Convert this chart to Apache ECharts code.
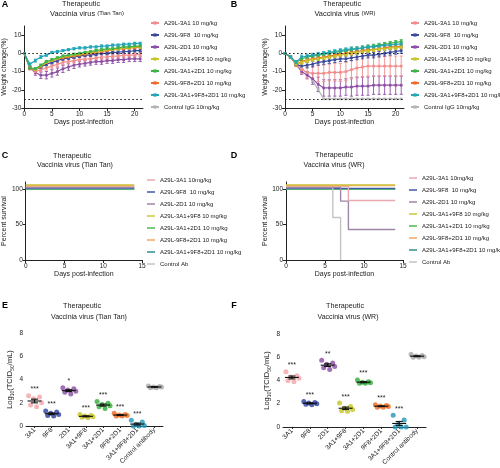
<!DOCTYPE html>
<html><head><meta charset="utf-8">
<script src="https://cdn.jsdelivr.net/npm/echarts@6/dist/echarts.min.js"></script>
<style>html,body{margin:0;padding:0;background:#fff}#c{width:500px;height:468px}</style>
</head><body><div id="c"></div>
<script>
// ---------- DATA ----------
const days = [0,1,2,3,4,5,6,7,8,9,10,11,12,13,14,15,16,17,18,19,20,21];
const legA = ['A29L-3A1 10 mg/kg','A29L-9F8  10 mg/kg','A29L-2D1 10 mg/kg','A29L-3A1+9F8 10 mg/kg','A29L-3A1+2D1 10 mg/kg','A29L-9F8+2D1 10 mg/kg','A29L-3A1+9F8+2D1 10 mg/kg','Control IgG 10mg/kg'];
const legC = ['A29L-3A1 10mg/kg','A29L-9F8  10 mg/kg ','A29L-2D1 10 mg/kg ','A29L-3A1+9F8 10 mg/kg ','A29L-3A1+2D1 10 mg/kg ','A29L-9F8+2D1 10 mg/kg ','A29L-3A1+9F8+2D1 10 mg/kg ','Control Ab'];
const cats = ['3A1','9F8','2D1','3A1+9F8','3A1+2D1','9F8+2D1','3A1+9F8+2D1','Control antibody'];

// Panel A: weight change (%), Tian Tan
const A_3A1        = [0,-8,-10,-9,-8,-7,-6,-5,-4.5,-4,-3.5,-3,-3,-2.5,-2,-2,-1.5,-1.5,-1,-1,-1,-0.5];
const A_9F8        = [0,-8,-9,-7.5,-6,-5,-4,-3,-2.5,-2,-1.5,-1,-1,-0.5,0,0,0.5,0.5,1,1,1.5,1.5];
const A_2D1        = [0,-8,-10.5,-12,-12,-11,-10,-8.5,-7.5,-6.5,-6,-5.5,-5,-4.5,-4.5,-4,-4,-3.5,-3.5,-3,-3,-3];
const A_3A1_9F8    = [0,-8,-9,-7,-5,-4,-3,-2,-1.5,-1,-0.5,0,0.5,1,1.5,2,2,2.5,3,3,3.5,3.5];
const A_3A1_2D1    = [0,-8,-8.5,-6.5,-4.5,-3.5,-2.5,-1.5,-1,-0.5,0,0.5,1,1.5,2,2.5,2.5,3,3.5,3.5,4,4];
const A_9F8_2D1    = [0,-8,-9,-7,-5,-4,-3,-2.5,-2,-1.5,-1,-0.5,0,0.5,1,1.5,2,2.5,2.5,3,3,3.5];
const A_3A1_9F8_2D1= [0,-6,-4,-2,-1,0.5,1,1.5,2,2.5,3,3,3.5,3.5,4,4,4.5,4.5,5,5,5.5,5.5];
const A_ctrl       = [];
const A_err_3A1     = [0,1,1,1.2,1.2,1.2,1.2,1.2,1.2,1.2,1.2,1.2,1.2,1.2,1.2,1.2,1.2,1.2,1.2,1.2,1.2,1.2];
const A_err_9F8     = [0,0.8,0.8,0.8,0.8,0.8,0.8,0.8,0.8,0.8,0.8,0.8,0.8,0.8,0.8,0.8,0.8,0.8,0.8,0.8,0.8,0.8];
const A_err_2D1     = [0,1,1.5,1.8,2,2,2,2,1.8,1.8,1.5,1.5,1.5,1.5,1.5,1.5,1.5,1.5,1.5,1.5,1.5,1.5];
const A_err_3A1_9F8 = [0,0.6,0.6,0.6,0.6,0.6,0.6,0.6,0.6,0.6,0.6,0.6,0.6,0.6,0.6,0.6,0.6,0.6,0.6,0.6,0.6,0.6];
const A_err_3A1_2D1 = [0,0.6,0.6,0.6,0.6,0.6,0.6,0.6,0.6,0.6,0.6,0.6,0.6,0.6,0.6,0.6,0.6,0.6,0.6,0.6,0.6,0.6];
const A_err_9F8_2D1 = [0,0.6,0.6,0.6,0.6,0.6,0.6,0.6,0.6,0.6,0.6,0.6,0.6,0.6,0.6,0.6,0.6,0.6,0.6,0.6,0.6,0.6];
const A_err_3A1_9F8_2D1 = [0,0.8,0.8,0.8,0.6,0.6,0.6,0.6,0.6,0.6,0.6,0.6,0.6,0.6,0.6,0.6,0.6,0.6,0.6,0.6,0.6,0.6];
const A_err_ctrl    = [];

// Panel B: weight change (%), WR
const B_3A1        = [0,-2,-6,-9,-10.5,-11,-11,-11,-10.5,-10.5,-10.5,-10,-9,-8,-7.5,-7,-7,-7,-7,-7,-7,-7];
const B_9F8        = [0,-2,-6,-7,-6.5,-6,-5,-4.5,-4,-3.5,-3,-3,-2.5,-2,-1.5,-1,-1,-0.5,0,0.5,1,1.5];
const B_2D1        = [0,-2,-6,-10,-12,-14,-17,-19,-19,-19,-19,-18.5,-18.5,-18,-18,-18,-17.5,-17.5,-17.5,-17.5,-17.5,-17.5];
const B_3A1_9F8    = [0,-2,-6,-5,-4,-3.5,-3,-2.5,-2,-1.5,-1,-0.5,0,0.5,1,1.5,2,2.5,2.5,3,3,3.5];
const B_3A1_2D1    = [0,-2,-5,-3,-2,-1.5,-1,-0.5,0,0.5,1,1.5,2,2.5,3,3.5,4,4.5,5,5.5,6,6.5];
const B_9F8_2D1    = [0,-2,-6,-4.5,-3.5,-3,-2.5,-2,-1.5,-1,-0.5,0,0.5,1,1.5,2,2,2.5,3,3.5,3.5,4];
const B_3A1_9F8_2D1= [0,-2,-5,-2,-1.5,-1,-0.5,0,0.5,1,1.5,2,2.5,2.5,3,3.5,3.5,4,4.5,4.5,5,5];
const B_ctrl       = [0,-2,-5,-8,-11,-15,-20,-25,-25,-25,-25,-25,-25,-25,-25,-25,-25,-25,-25,-25,-25,-25];
const B_err_3A1     = [0,0.5,1,2,3,4,4.5,4.5,4.5,5,5,5,5,5.5,5.5,5.5,5.5,5.5,5.5,5.5,5.5,5.5];
const B_err_9F8     = [0,0.5,1,1.5,1.5,1.5,1.5,1.5,1.5,1.5,1.5,1.5,1.5,1.5,1.5,1.5,1.5,1.5,1.5,1.5,1.5,1.5];
const B_err_2D1     = [0,0.5,1,1.5,2,3,4,4.5,4.5,4.5,4.5,4.5,5,5,5,5,5,5,5,5,5,5];
const B_err_3A1_9F8 = [0,0.5,1,1,1,1,1,1,1,1,1,1,1,1,1,1,1,1,1,1,1,1];
const B_err_3A1_2D1 = [0,0.5,1,1,1,1,1,1,1,1,1,1,1,1,1,1,1,1,1,1,1,1];
const B_err_9F8_2D1 = [0,0.5,1,1,1,1,1,1,1,1,1,1,1,1,1,1,1,1,1,1,1,1];
const B_err_3A1_9F8_2D1 = [0,0.5,1,1,1,1,1,1,1,1,1,1,1,1,1,1,1,1,1,1,1,1];
const B_err_ctrl    = [0,0.5,1,1,1,1,1,0,0,0,0,0,0,0,0,0,0,0,0,0,0,0];

// Panel C: survival (%), Tian Tan  [day, percent]
const C_3A1         = [[0,104],[14,104]];
const C_9F8         = [[0,101]  ,[14,101]];
const C_2D1         = [[0,102.5],[14,102.5]];
const C_3A1_9F8     = [[0,106],[14,106]];
const C_3A1_2D1     = [[0,100.5],[14,100.5]];
const C_9F8_2D1     = [[0,105],[14,105]];
const C_3A1_9F8_2D1 = [[0,100],[14,100]];
const C_ctrl        = [[0,102],[14,102]];
// Panel D: survival (%), WR
const D_3A1         = [[0,104],[8,84],[14,84]];
const D_9F8         = [[0,101],[14,101]];
const D_2D1         = [[0,102.5],[7,83],[8,43],[14,43]];
const D_3A1_9F8     = [[0,106],[14,106]];
const D_3A1_2D1     = [[0,100.5],[14,100.5]];
const D_9F8_2D1     = [[0,105],[14,105]];
const D_3A1_9F8_2D1 = [[0,100],[14,100]];
const D_ctrl        = [[0,102],[6,60],[7,0]];

// Panel E: Log10(TCID50/mL), Tian Tan
const E_3A1         = [2.6,2.5,2.35,2.0,1.8,1.65];
const E_9F8         = [1.3,1.2,1.1,1.0,0.9,0.85];
const E_2D1         = [3.3,3.2,3.1,3.0,2.9,2.75];
const E_3A1_9F8     = [1.0,0.9,0.85,0.8,0.75,0.7];
const E_3A1_2D1     = [2.1,1.95,1.85,1.75,1.65,1.5];
const E_9F8_2D1     = [1.1,1.0,0.95,0.9,0.85,0.85];
const E_3A1_9F8_2D1 = [0.5,0.35,0.1,0.05,0.0,0.0];
const E_ctrl        = [3.45,3.4,3.35,3.35,3.3,3.3];
const E_stars       = ['***','***','*','***','***','***','***',''];
// Panel F: Log10(TCID50/mL), WR
const F_3A1         = [4.75,4.4,4.3,4.2,4.0,3.9];
const F_9F8         = [2.2,2.1,2.05,2.0,1.95,1.9];
const F_2D1         = [5.75,5.5,5.4,5.2,5.1,4.95];
const F_3A1_9F8     = [2.05,1.75,1.6,1.5,1.4,1.35];
const F_3A1_2D1     = [4.05,3.9,3.85,3.8,3.75,3.75];
const F_9F8_2D1     = [1.9,1.85,1.8,1.75,1.7,1.7];
const F_3A1_9F8_2D1 = [1.0,0.6,0.2,0.0,0.0,0.0];
const F_ctrl        = [6.25,6.15,6.1,6.05,6.0,6.0];
const F_stars       = ['***','***','**','***','***','***','***',''];

// ---------- STYLE ----------
const colA = ['#F28D8D','#3A4B9E','#8E4FA6','#C6C62A','#3CB24A','#EE6B2C','#22A6B8','#B4B4B4'];
const colC = ['#E9A9B1','#3F5AA8','#9D86A6','#C8C83A','#4DB84D','#F0A860','#2E8F8F','#C4C4C4'];
const colE = ['#F2A3A8','#2C3E9C','#8A4CA2','#C4C420','#2EAE34','#EE6A1E','#2196B6','#A8A8A8'];
const FF = 'Arial, "Liberation Sans", sans-serif';
const TXT = '#1a1a1a';
const jit = [-6,5,-1,7,-4,2];

const A_vals = [A_3A1,A_9F8,A_2D1,A_3A1_9F8,A_3A1_2D1,A_9F8_2D1,A_3A1_9F8_2D1,A_ctrl];
const A_errs = [A_err_3A1,A_err_9F8,A_err_2D1,A_err_3A1_9F8,A_err_3A1_2D1,A_err_9F8_2D1,A_err_3A1_9F8_2D1,A_err_ctrl];
const B_vals = [B_3A1,B_9F8,B_2D1,B_3A1_9F8,B_3A1_2D1,B_9F8_2D1,B_3A1_9F8_2D1,B_ctrl];
const B_errs = [B_err_3A1,B_err_9F8,B_err_2D1,B_err_3A1_9F8,B_err_3A1_2D1,B_err_9F8_2D1,B_err_3A1_9F8_2D1,B_err_ctrl];
const C_vals = [C_3A1,C_9F8,C_2D1,C_3A1_9F8,C_3A1_2D1,C_9F8_2D1,C_3A1_9F8_2D1,C_ctrl];
const D_vals = [D_3A1,D_9F8,D_2D1,D_3A1_9F8,D_3A1_2D1,D_9F8_2D1,D_3A1_9F8_2D1,D_ctrl];
const E_vals = [E_3A1,E_9F8,E_2D1,E_3A1_9F8,E_3A1_2D1,E_9F8_2D1,E_3A1_9F8_2D1,E_ctrl];
const F_vals = [F_3A1,F_9F8,F_2D1,F_3A1_9F8,F_3A1_2D1,F_9F8_2D1,F_3A1_9F8_2D1,F_ctrl];
const orderAB = [7,2,0,1,5,3,4,6];
const orderCD = [6,4,1,7,2,0,5,3];

function axLine(){ return {onZero:false, lineStyle:{color:'#222', width:1}}; }
function axTick(cv){ const t={length:3, lineStyle:{color:'#222', width:1}}; if(cv) t.customValues=cv; return t; }
function axLabel(cv, extra){ const l={fontSize:6.5, color:TXT, margin:3, fontFamily:FF}; if(cv) l.customValues=cv; return Object.assign(l, extra||{}); }
const nameStyle = {fontSize:7, color:TXT, fontFamily:FF};

const grids = [
  {left:24, top:26, width:119, height:82},
  {left:285, top:26, width:119, height:82},
  {left:24, top:182, width:118, height:78},
  {left:286, top:182, width:117, height:78},
  {left:26, top:333, width:137, height:93},
  {left:283, top:334, width:143, height:93}
];
const xAxes = [], yAxes = [];
[0,1].forEach(g=>{
  xAxes.push({gridIndex:g, type:'value', min:0, max:21.5, axisLine:axLine(), axisTick:axTick([0,5,10,15,20]), axisLabel:axLabel([0,5,10,15,20]), splitLine:{show:false},
    name:'Days post-infection', nameLocation:'middle', nameGap:10, nameTextStyle:nameStyle});
  yAxes.push({gridIndex:g, type:'value', min:-30, max:15, axisLine:axLine(), axisTick:axTick([-30,-20,-10,0,10]), axisLabel:axLabel([-30,-20,-10,0,10]), splitLine:{show:false},
    name:'Weight change(%)', nameLocation:'middle', nameGap:13, nameTextStyle:nameStyle});
});
[2,3].forEach(g=>{
  xAxes.push({gridIndex:g, type:'value', min:0, max:15, interval:5, axisLine:axLine(), axisTick:axTick(), axisLabel:axLabel(), splitLine:{show:false},
    name:'Days post-infection', nameLocation:'middle', nameGap:11, nameTextStyle:nameStyle});
  yAxes.push({gridIndex:g, type:'value', min:0, max:110, axisLine:axLine(), axisTick:axTick([0,50,100]), axisLabel:axLabel([0,50,100]), splitLine:{show:false},
    name:'Percent survival', nameLocation:'middle', nameGap:15, nameTextStyle:nameStyle});
});
const yNameRich = {n:{fontSize:7.5, fontFamily:FF, color:TXT, lineHeight:10}, s:{fontSize:5, fontFamily:FF, color:TXT, lineHeight:10, verticalAlign:'bottom'}};
[4,5].forEach(g=>{
  xAxes.push({gridIndex:g, type:'category', data:cats, boundaryGap:true, axisLine:axLine(), axisTick:{show:true, alignWithLabel:true, length:2, lineStyle:{color:'#222'}},
    axisLabel:axLabel(null,{rotate:45, interval:0, fontSize:6.5})});
  yAxes.push({gridIndex:g, type:'value', min:0, max:8, interval:2, axisLine:axLine(), axisTick:axTick(), axisLabel:axLabel(), splitLine:{show:false},
    name:'{n|Log}{s|10}{n|(TCID}{s|50}{n|/mL)}', nameLocation:'middle', nameGap:11, nameTextStyle:{rich:yNameRich}});
});

function errRender(params, api){
  const x=api.value(0), y=api.value(1), e=api.value(2);
  if (!e) return null;
  const hi=api.coord([x,y+e]), lo=api.coord([x,y-e]);
  const w=1.6, st={stroke:api.visual('color'), lineWidth:0.9};
  return {type:'group', children:[
    {type:'line', shape:{x1:hi[0],y1:hi[1],x2:lo[0],y2:lo[1]}, style:st},
    {type:'line', shape:{x1:hi[0]-w,y1:hi[1],x2:hi[0]+w,y2:hi[1]}, style:st},
    {type:'line', shape:{x1:lo[0]-w,y1:lo[1],x2:lo[0]+w,y2:lo[1]}, style:st}]};
}

const series = [];
[[A_vals,A_errs,0,legA],[B_vals,B_errs,1,legA]].forEach(([vals,errs,g,names])=>{
  orderAB.forEach((k,idx)=>{
    const s = {type:'line', name:names[k], xAxisIndex:g, yAxisIndex:g, color:colA[k],
      data: vals[k].map((v,i)=>[days[i], v]), symbol:'rect', symbolSize:2.6, lineStyle:{width:1.2}, z:3};
    if (idx===0) s.markLine = {silent:true, symbol:'none', label:{show:false}, lineStyle:{color:'#222', type:[1.6,2.4], width:1.2},
      data:[{yAxis:0},{yAxis:-25}]};
    series.push(s);
    series.push({type:'custom', name:names[k]+' SEM', xAxisIndex:g, yAxisIndex:g, itemStyle:{color:colA[k]}, z:2,
      renderItem:errRender, data: vals[k].map((v,i)=>[days[i], v, errs[k][i]])});
  });
});
[[C_vals,2],[D_vals,3]].forEach(([vals,g])=>{
  orderCD.forEach(k=>{
    series.push({type:'line', name:legC[k], xAxisIndex:g, yAxisIndex:g, color:colC[k], step:'end', symbol:'none',
      lineStyle:{width:1.4}, data:vals[k]});
  });
});
function meanOf(a){ return a.reduce((s,v)=>s+v,0)/a.length; }
function semOf(a){ const m=meanOf(a); return Math.sqrt(a.reduce((s,v)=>s+(v-m)*(v-m),0)/(a.length-1))/Math.sqrt(a.length); }
[[E_vals,E_stars,4],[F_vals,F_stars,5]].forEach(([vals,stars,g])=>{
  const pts=[];
  vals.forEach((grp,i)=>grp.forEach((v,j)=>pts.push({value:[i,v], itemStyle:{color:colE[i]}, symbolOffset:[jit[j],0]})));
  series.push({type:'scatter', name:'pts'+g, xAxisIndex:g, yAxisIndex:g, symbolSize:5, data:pts, z:2});
  series.push({type:'custom', name:'mean'+g, xAxisIndex:g, yAxisIndex:g, z:4,
    data: vals.map((grp,i)=>[i, meanOf(grp), semOf(grp)]),
    renderItem:function(params, api){
      const x=api.value(0), m=api.value(1), e=api.value(2);
      const c=api.coord([x,m]), hi=api.coord([x,m+e]), lo=api.coord([x,m-e]);
      const st={stroke:'#111', lineWidth:1.1}, w=3.5, hw=7;
      return {type:'group', children:[
        {type:'line', shape:{x1:c[0]-hw,y1:c[1],x2:c[0]+hw,y2:c[1]}, style:st},
        {type:'line', shape:{x1:hi[0],y1:hi[1],x2:lo[0],y2:lo[1]}, style:st},
        {type:'line', shape:{x1:hi[0]-w,y1:hi[1],x2:hi[0]+w,y2:hi[1]}, style:st},
        {type:'line', shape:{x1:lo[0]-w,y1:lo[1],x2:lo[0]+w,y2:lo[1]}, style:st}]};
    }});
  series.push({type:'custom', name:'stars'+g, xAxisIndex:g, yAxisIndex:g, z:5,
    data: vals.map((grp,i)=>[i, Math.max(...grp)]),
    renderItem:function(params, api){
      const p=api.coord([api.value(0), api.value(1)]);
      return {type:'text', x:p[0], y:p[1]-3, style:{text:stars[params.dataIndex], fontSize:7, fontFamily:FF, fill:TXT, align:'center', verticalAlign:'bottom'}};
    }});
});

const legends = [
  {left:145, top:14, data:legA},
  {left:405, top:14, data:legA},
  {left:142, top:171, data:legC, c:true},
  {left:404, top:169, data:legC, c:true}
].map(l=>{
  const o = {left:l.left, top:l.top, orient:'vertical', itemGap:4, itemWidth:8, selectedMode:false,
    textStyle:{fontSize:6, lineHeight:8, color:TXT, fontFamily:FF}};
  if (l.c) { o.icon='rect'; o.itemHeight=1.5; o.data=l.data.map((n,k)=>({name:n, itemStyle:{color:colC[k]}})); }
  else { o.itemHeight=4; o.data=l.data; }
  return o;
});

function tx(x,y,text,size){ return {type:'text', x:x, y:y, style:{text:text, fontSize:size, fontFamily:FF, fill:TXT, align:'center', verticalAlign:'middle'}}; }
function titleRich(x,y,main,paren,big,small){
  return {type:'text', x:x, y:y, style:{text:'{a|'+main+'}{b|'+paren+'}', align:'center', verticalAlign:'middle',
    rich:{a:{fontSize:big, fontFamily:FF, fill:TXT, color:TXT}, b:{fontSize:small, fontFamily:FF, fill:TXT, color:TXT}}}};
}
function letterT(x,y,t){ return {type:'text', x:x, y:y, style:{text:t, fontSize:9, fontWeight:'bold', fontFamily:FF, fill:'#000', align:'center', verticalAlign:'middle'}}; }
const graphics = [
  letterT(5,5,'A'), letterT(234,5,'B'), letterT(5,156,'C'), letterT(234,156,'D'), letterT(5,306,'E'), letterT(234,306,'F'),
  tx(81,4,'Therapeutic',7.2),
  titleRich(87,13.5,'Vaccinia virus ','(Tian Tan)',7.4,6),
  tx(342,4,'Therapeutic',7.2),
  titleRich(345,13.5,'Vaccinia virus ','(WR)',7.4,6),
  tx(72,156,'Therapeutic',7.2),
  tx(75,165,'Vaccinia virus (Tian Tan)',7),
  tx(334,155,'Therapeutic',7.2),
  tx(334,165,'Vaccinia virus (WR)',7),
  tx(82,306,'Therapeutic',7.2),
  tx(89,317,'Vaccinia virus (Tian Tan)',7),
  tx(345,306,'Therapeutic',7.2),
  tx(348,317,'Vaccinia virus (WR)',7)
];

const chart = echarts.init(document.getElementById('c'), null, {renderer:'canvas'});
chart.setOption({
  animation:false,
  backgroundColor:'#fff',
  textStyle:{fontFamily:FF},
  grid:grids, xAxis:xAxes, yAxis:yAxes, legend:legends, series:series, graphic:graphics
});
</script></body></html>
